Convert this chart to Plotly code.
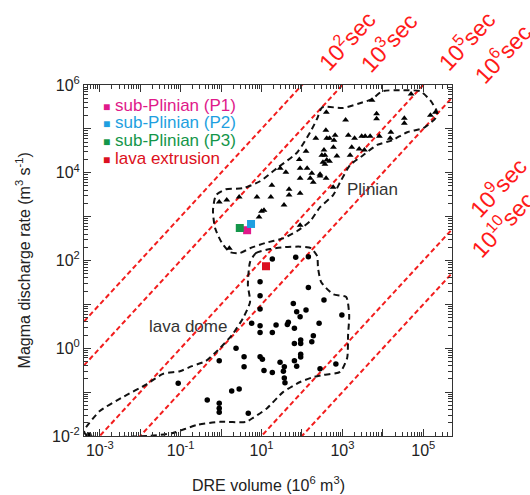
import plotly.graph_objects as go

# ---------------- data (DRE volume in 10^6 m^3, discharge rate in m^3/s) ----------------
plinian_vol = [5.0e4, 5.4e3, 400, 1200, 7000, 7000, 3.4e4, 3.4e4, 1.5e5, 2.0e5,
               390, 410, 480, 660, 620, 600, 730, 1400, 1700, 1550,
               2000, 2600, 3000, 3650, 4850, 3500, 8200, 1.58e4, 1.52e4, 350,
               310, 370, 410, 330, 370, 480, 280, 395, 590, 220,
               126, 86, 134, 90, 160, 90, 40, 29, 18, 48,
               48, 90, 36, 10, 11.5, 7.7, 17, 2.8, 1.38, 0.9,
               1.6, 8.7, 90, 190, 280, 175]
plinian_rate = [6.2e5, 4.5e5, 2.4e5, 1.6e5, 2.2e5, 1.7e5, 1.75e5, 1.35e5, 2.05e5, 2.4e5,
                9.3e4, 6.1e4, 6.1e4, 7.2e4, 5.5e4, 3.8e4, 2.4e4, 7.2e4, 3.8e4, 2.5e4,
                6.1e4, 3.5e4, 6.8e4, 6.8e4, 6.8e4, 3.3e4, 6.8e4, 8.4e4, 6.1e4, 3.3e4,
                2.5e4, 2.5e4, 1.94e4, 1.74e4, 1.57e4, 1.84e4, 9300, 7500, 4700, 6.1e4,
                3.1e4, 2.0e4, 1.27e4, 1.27e4, 7500, 7500, 1.03e4, 1.27e4, 5200, 4200,
                3100, 3400, 1830, 1330, 1400, 2800, 2800, 2800, 2400, 2150,
                190, 975, 640, 6100, 8400, 9800]

dome_vol = [18.5, 70, 144, 9.2, 9.2, 9.2, 144, 61, 74, 90,
            126, 350, 970, 5.7, 9.2, 9.2, 22.9, 18.5, 46, 43.5,
            265, 65, 191, 175, 65, 93, 93, 9.2, 10.5, 28.7,
            11.5, 18.5, 36.6, 34.7, 65, 74, 93, 93, 36.6, 38,
            280, 690, 2.34, 3.7, 3.7, 0.9, 0.087, 1.83, 2.8, 0.455,
            0.9, 0.9, 0.9, 4.7, 5.4e-4]
dome_rate = [108, 118, 121, 33, 15.7, 7.8, 24.4, 10.5, 6.8, 5.2,
             7.4, 12.5, 5.7, 3.7, 3.26, 2.3, 3.37, 2.3, 3.9, 3.5,
             3.7, 2.84, 1.93, 1.41, 1.29, 1.54, 1.28, 0.64, 0.56, 0.48,
             0.31, 0.28, 0.38, 0.30, 0.52, 0.39, 0.73, 0.63, 0.21, 0.164,
             0.34, 0.44, 1.0, 0.64, 0.38, 0.52, 0.16, 0.106, 0.118, 0.066,
             0.056, 0.043, 0.035, 0.033, 0.0105]

# this study
study_names = ["sub-Plinian (P1)", "sub-Plinian (P2)", "sub-Plinian (P3)", "lava extrusion"]
study_vol = [4.4, 5.5, 2.9, 12.9]
study_rate = [490, 680, 550, 74]
study_colors = ["#e0198a", "#1e9fe0", "#14964a", "#dc1020"]

# field outlines (dashed)
plinian_outline_vol = [0.75, 1.32, 3.5, 9.2, 24, 76, 160, 240, 315, 1040,
                       2700, 5400, 9600, 3.2e4, 8.4e4, 1.48e5, 2.2e5, 2.0e5, 1.0e5, 4.0e4,
                       1.7e4, 7200, 3250, 1550, 880, 590, 280, 160, 76, 34,
                       12.2, 5.2, 2.9, 1.66, 1.05, 0.71, 0.63, 0.75]
plinian_outline_rate = [3100, 4200, 4450, 6400, 1.27e4, 2.9e4, 8.4e4, 1.75e5, 3.1e5, 3.0e5,
                        3.85e5, 4.75e5, 7.2e5, 7.6e5, 7.2e5, 4.5e5, 2.4e5, 1.75e5, 1.04e5, 8.4e4,
                        5.5e4, 4.3e4, 2.5e4, 1.5e4, 6100, 3100, 1640, 790, 470, 320,
                        250, 190, 148, 155, 250, 550, 1400, 3100]

dome_outline_vol = [5.2, 7.3, 16.2, 38, 90, 168, 237, 250, 300, 590,
                    1240, 1470, 1380, 1310, 880, 330, 190, 90, 34, 13.7,
                    6.2, 4.1, 0.94, 0.25, 0.064, 0.0174, 4.8e-4, 4.1e-4, 0.001, 0.0037,
                    0.0147, 0.0365, 0.096, 0.19, 0.42, 0.84, 1.86, 3.5, 5.2, 4.6, 5.2]
dome_outline_rate = [92, 148, 182, 202, 207, 191, 126, 67, 32, 17,
                     14.7, 5.7, 2.0, 0.60, 0.29, 0.245, 0.22, 0.17, 0.10, 0.043,
                     0.026, 0.021, 0.021, 0.0178, 0.0117, 0.0101, 0.0101, 0.013, 0.037, 0.077,
                     0.153, 0.26, 0.30, 0.39, 0.51, 0.91, 2.0, 4.9, 11.3, 27.5, 92]

# constant-duration lines (seconds)
durations = [1e2, 1e3, 1e5, 1e6, 1e9, 1e10]
duration_labels = ["10<sup>2</sup>sec", "10<sup>3</sup>sec", "10<sup>5</sup>sec",
                   "10<sup>6</sup>sec", "10<sup>9</sup>sec", "10<sup>10</sup>sec"]

x_ticks = [1e-3, 1e-2, 1e-1, 1e0, 1e1, 1e2, 1e3, 1e4, 1e5]
x_ticktext = ["10<sup>-3</sup>", "", "10<sup>-1</sup>", "", "10<sup>1</sup>", "",
              "10<sup>3</sup>", "", "10<sup>5</sup>"]
y_ticks = [1e-2, 1e-1, 1e0, 1e1, 1e2, 1e3, 1e4, 1e5, 1e6]
y_ticktext = ["10<sup>-2</sup>", "", "10<sup>0</sup>", "", "10<sup>2</sup>", "",
              "10<sup>4</sup>", "", "10<sup>6</sup>"]

# ---------------- figure ----------------
FONT = "Liberation Sans, Arial, Helvetica, sans-serif"
XR = [-3.39, 5.71]
YR = [-2, 6]

fig = go.Figure()

# duration lines: Q = V*1e6 / t
xs_line = [10 ** XR[0], 10 ** XR[1]]
for t in durations:
    fig.add_trace(go.Scatter(x=xs_line, y=[v * 1e6 / t for v in xs_line], mode="lines",
                             line=dict(color="#f21d1d", width=2, dash="5px,3px"),
                             hoverinfo="skip", showlegend=False))

# outlines
for ox, oy in [(plinian_outline_vol, plinian_outline_rate), (dome_outline_vol, dome_outline_rate)]:
    fig.add_trace(go.Scatter(x=ox, y=oy, mode="lines",
                             line=dict(color="#111111", width=2, dash="6px,4px", shape="spline", smoothing=0.6),
                             showlegend=False, hoverinfo="skip"))

fig.add_trace(go.Scatter(x=plinian_vol, y=plinian_rate, mode="markers",
                         marker=dict(symbol="triangle-up", size=6, color="black"),
                         name="Plinian", showlegend=False))
fig.add_trace(go.Scatter(x=dome_vol, y=dome_rate, mode="markers",
                         marker=dict(symbol="circle", size=5.5, color="black"),
                         name="lava dome", showlegend=False))

for n, vx, vy, c in zip(study_names, study_vol, study_rate, study_colors):
    fig.add_trace(go.Scatter(x=[vx], y=[vy], mode="markers",
                             marker=dict(symbol="square", size=8, color=c),
                             name=n, showlegend=False))

# legend built from annotations (tight spacing as in the original)
leg_y = [0.943, 0.892, 0.842, 0.792]
for n, c, ly in zip(study_names, study_colors, leg_y):
    fig.add_annotation(xref="paper", yref="paper", x=0.046, y=ly, xanchor="left", yanchor="middle",
                       text='<span style="font-size:12px">■</span> ' + n, showarrow=False,
                       font=dict(family=FONT, size=17, color=c))

# duration labels
lab_pos = [(0.712, 1.128), (0.825, 1.122), (1.038, 1.127), (1.136, 1.090), (1.122, 0.710), (1.134, 0.605)]
for txt, (px, py) in zip(duration_labels, lab_pos):
    fig.add_annotation(xref="paper", yref="paper", x=px, y=py, xanchor="center", yanchor="middle",
                       text=txt, textangle=-47, showarrow=False,
                       font=dict(family=FONT, size=23, color="#ff1a1a"))

# region labels
fig.add_annotation(xref="paper", yref="paper", x=0.785, y=0.701, xanchor="center", yanchor="middle",
                   text="Plinian", showarrow=False, font=dict(family=FONT, size=17, color="#333333"))
fig.add_annotation(xref="paper", yref="paper", x=0.283, y=0.311, xanchor="center", yanchor="middle",
                   text="lava dome", showarrow=False, font=dict(family=FONT, size=17, color="#333333"))

# axis titles
fig.add_annotation(xref="paper", yref="paper", x=0.5, y=-0.137, xanchor="center", yanchor="middle",
                   text="DRE volume (10<sup>6</sup> m<sup>3</sup>)",
                   showarrow=False, font=dict(family=FONT, size=16, color="#222222"))
fig.add_annotation(xref="paper", yref="paper", x=-0.166, y=0.500, xanchor="center", yanchor="middle",
                   textangle=-90, text="Magma discharge rate (m<sup>3</sup> s<sup>-1</sup>)",
                   showarrow=False, font=dict(family=FONT, size=16, color="#222222"))

minor_x = [m * 10 ** k for k in range(-4, 6) for m in range(2, 10)]
minor_y = [m * 10 ** k for k in range(-3, 6) for m in range(2, 10)]

axis_common = dict(type="log", showgrid=False, zeroline=False, showline=True, linecolor="#333333",
                   linewidth=1, mirror="allticks", ticks="inside", ticklen=7, tickcolor="#333333",
                   tickfont=dict(family=FONT, size=16, color="#222222"), tickmode="array")

fig.update_xaxes(range=XR, tickvals=x_ticks, ticktext=x_ticktext,
                 minor=dict(tickmode="array", tickvals=minor_x, ticks="inside", ticklen=4, tickcolor="#333333"),
                 **axis_common)
fig.update_yaxes(range=YR, tickvals=y_ticks, ticktext=y_ticktext,
                 minor=dict(tickmode="array", tickvals=minor_y, ticks="inside", ticklen=4, tickcolor="#333333"),
                 **axis_common)

fig.update_layout(width=530, height=495, margin=dict(l=84, r=78, t=85, b=59),
                  paper_bgcolor="white", plot_bgcolor="white", showlegend=False,
                  font=dict(family=FONT))

fig.write_html("out.html", config={"displayModeBar": False},
               post_script="document.body.style.margin='0px';")
